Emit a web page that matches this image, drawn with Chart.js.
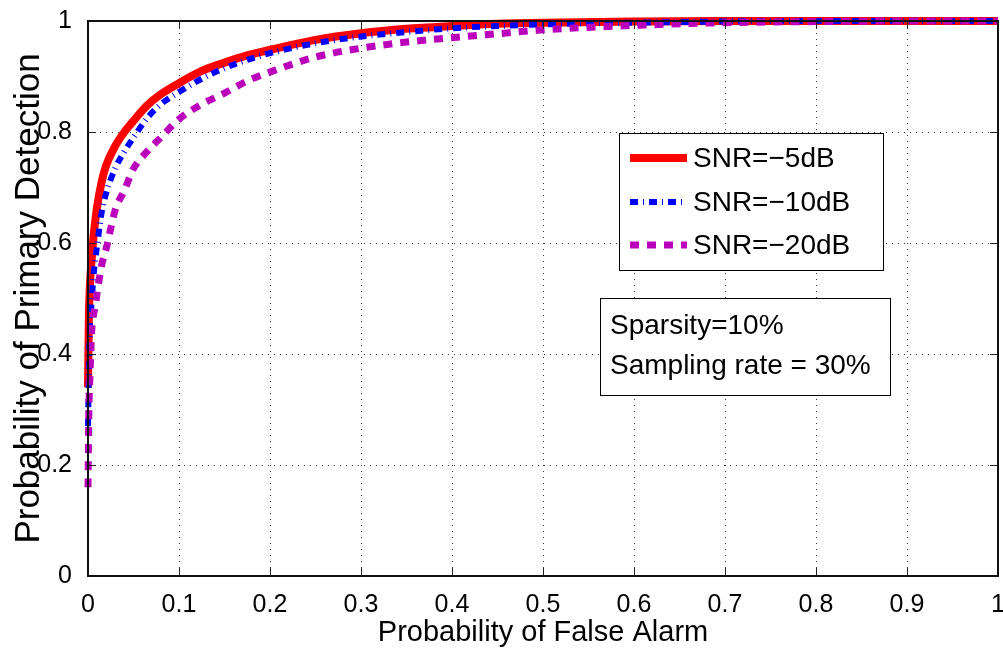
<!DOCTYPE html>
<html>
<head>
<meta charset="utf-8">
<script src="https://cdn.jsdelivr.net/npm/chart.js@4.4.0/dist/chart.umd.min.js"></script>
<style>
  html, body { margin: 0; padding: 0; background: #fff; }
  #wrap { width: 1003px; height: 651px; }
</style>
</head>
<body>
<div id="wrap"><canvas id="roc" width="1003" height="651"></canvas></div>
<script>
// ROC curves: detection probability vs false alarm probability
const falseAlarm = [0, 0.001, 0.002, 0.004, 0.006, 0.008, 0.01, 0.015, 0.02, 0.03, 0.04, 0.05, 0.065, 0.08,
  0.1, 0.125, 0.15, 0.175, 0.2, 0.25, 0.3, 0.35, 0.4, 0.45, 0.5, 0.6, 0.7, 0.8, 0.9, 1];
const detect5 = [0.34, 0.47, 0.52, 0.57, 0.61, 0.64, 0.665, 0.71, 0.74, 0.775, 0.80, 0.82, 0.848, 0.868,
  0.888, 0.91, 0.925, 0.938, 0.948, 0.966, 0.978, 0.986, 0.991, 0.995, 0.997, 0.999, 1, 1, 1, 1];
const detect10 = [0.27, 0.37, 0.445, 0.494, 0.54, 0.57, 0.595, 0.655, 0.69, 0.735, 0.765, 0.79, 0.825, 0.85,
  0.872, 0.896, 0.915, 0.93, 0.942, 0.96, 0.972, 0.98, 0.987, 0.991, 0.994, 0.997, 0.999, 1, 1, 1];
const detect20 = [0.16, 0.30, 0.354, 0.44, 0.47, 0.486, 0.51, 0.56, 0.59, 0.66, 0.695, 0.734, 0.765, 0.79,
  0.823, 0.85, 0.87, 0.892, 0.908, 0.935, 0.951, 0.962, 0.97, 0.977, 0.984, 0.992, 0.997, 0.999, 1, 1];

const seriesNames = ['SNR=\u22125dB', 'SNR=\u221210dB', 'SNR=\u221220dB'];
const xTicks = [0, 0.1, 0.2, 0.3, 0.4, 0.5, 0.6, 0.7, 0.8, 0.9, 1];
const yTicks = [0, 0.2, 0.4, 0.6, 0.8, 1];
const noteLines = ['Sparsity=10%', 'Sampling rate = 30%'];

const FONT = "'Liberation Sans', Arial, Helvetica, sans-serif";

function pts(ys) {
  return falseAlarm.map((x, i) => ({ x: x, y: ys[i] }));
}

function seg(ctx, x1, y1, x2, y2) {
  ctx.beginPath();
  ctx.moveTo(x1, y1);
  ctx.lineTo(x2, y2);
  ctx.stroke();
}

// dotted grid under the curves, box + ticks + legend + note on top
const frame = {
  id: 'frame',
  beforeDatasetsDraw(chart) {
    const { ctx, chartArea: a, scales: { x, y } } = chart;
    ctx.save();
    ctx.strokeStyle = '#333';
    ctx.lineWidth = 1;
    ctx.setLineDash([1, 5]);
    xTicks.forEach(v => {
      if (v === 0 || v === 1) return;
      const px = Math.round(x.getPixelForValue(v)) + 0.5;
      seg(ctx, px, a.top, px, a.bottom);
    });
    yTicks.forEach(v => {
      if (v === 0 || v === 1) return;
      const py = Math.round(y.getPixelForValue(v)) + 0.5;
      seg(ctx, a.left, py, a.right, py);
    });
    ctx.restore();
  },
  afterDatasetsDraw(chart) {
    const { ctx, chartArea: a, scales: { x, y } } = chart;
    ctx.save();
    ctx.setLineDash([]);
    ctx.strokeStyle = '#222';
    ctx.lineWidth = 1;
    xTicks.forEach(v => {
      const px = Math.round(x.getPixelForValue(v)) + 0.5;
      seg(ctx, px, a.bottom, px, a.bottom - 8);
      seg(ctx, px, a.top, px, a.top + 8);
    });
    yTicks.forEach(v => {
      const py = Math.round(y.getPixelForValue(v)) + 0.5;
      seg(ctx, a.left, py, a.left + 8, py);
      seg(ctx, a.right, py, a.right - 8, py);
    });
    ctx.lineWidth = 2;
    ctx.strokeStyle = '#111';
    ctx.strokeRect(a.left, a.top, a.right - a.left, a.bottom - a.top);

    // legend
    ctx.fillStyle = '#fff';
    ctx.fillRect(619, 133, 264, 137);
    ctx.lineWidth = 1;
    ctx.strokeStyle = '#000';
    ctx.strokeRect(619.5, 133.5, 264, 137);
    ctx.font = '28px ' + FONT;
    ctx.textBaseline = 'middle';
    ctx.textAlign = 'left';
    const rows = [158, 202, 245];
    chart.data.datasets.forEach((ds, i) => {
      ctx.strokeStyle = ds.borderColor;
      ctx.lineWidth = ds.borderWidth;
      ctx.setLineDash(ds.borderDash || []);
      seg(ctx, 630, rows[i], 687, rows[i]);
      ctx.fillStyle = '#000';
      ctx.fillText(seriesNames[i], 693, rows[i] + 1);
    });

    // note box
    ctx.setLineDash([]);
    ctx.fillStyle = '#fff';
    ctx.fillRect(600, 298, 290, 97);
    ctx.lineWidth = 1;
    ctx.strokeStyle = '#000';
    ctx.strokeRect(600.5, 298.5, 290, 97);
    ctx.fillStyle = '#000';
    noteLines.forEach((t, i) => ctx.fillText(t, 610, 326 + i * 40));
    ctx.restore();
  }
};

const ctx = document.getElementById('roc').getContext('2d');

const chart = new Chart(ctx, {
  type: 'line',
  data: {
    datasets: [
      { label: seriesNames[0], data: pts(detect5), borderColor: '#ff0000', borderWidth: 8, order: 3 },
      { label: seriesNames[1], data: pts(detect10), borderColor: '#0000ff', borderWidth: 6, borderDash: [8, 5, 1, 5], order: 2 },
      { label: seriesNames[2], data: pts(detect20), borderColor: '#bb00bb', borderWidth: 7, borderDash: [9, 8], order: 1 }
    ].map(ds => Object.assign(ds, { pointRadius: 0, fill: false, cubicInterpolationMode: 'monotone', clip: 5 }))
  },
  options: {
    responsive: false,
    animation: false,
    devicePixelRatio: 1,
    layout: { padding: { top: 21, right: 5, left: 0, bottom: 0 } },
    plugins: {
      legend: { display: false },
      tooltip: { enabled: false }
    },
    scales: {
      x: {
        type: 'linear',
        min: 0,
        max: 1,
        afterFit: s => { s.height = 75; s.paddingLeft = 0; s.paddingRight = 0; },
        afterBuildTicks: s => { s.ticks = xTicks.map(v => ({ value: v })); },
        grid: { display: false },
        border: { display: false },
        ticks: {
          font: { family: FONT, size: 25 },
          color: '#000',
          padding: 6,
          maxRotation: 0,
          autoSkip: false,
          callback: v => String(+v.toFixed(2))
        },
        title: {
          display: true,
          text: 'Probability of False Alarm',
          font: { family: FONT, size: 29 },
          color: '#000',
          padding: { top: 0, bottom: 1 }
        }
      },
      y: {
        type: 'linear',
        min: 0,
        max: 1,
        afterFit: s => { s.width = 88; s.paddingTop = 0; s.paddingBottom = 0; },
        afterBuildTicks: s => { s.ticks = yTicks.map(v => ({ value: v })); },
        grid: { display: false },
        border: { display: false },
        ticks: {
          font: { family: FONT, size: 25 },
          color: '#000',
          padding: 8,
          autoSkip: false,
          callback: v => String(+v.toFixed(2))
        },
        title: {
          display: true,
          text: 'Probability of Primary Detection',
          font: { family: FONT, size: 35 },
          color: '#000',
          padding: { top: 8, bottom: 0 }
        }
      }
    }
  },
  plugins: [frame]
});
</script>
</body>
</html>
